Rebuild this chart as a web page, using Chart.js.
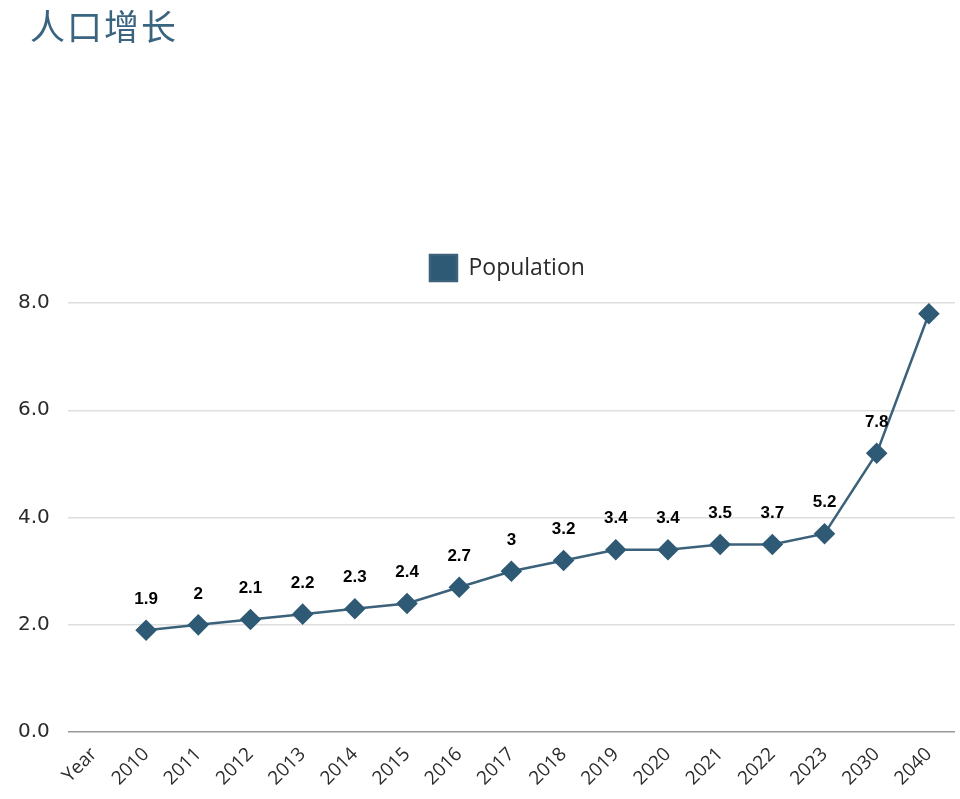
<!DOCTYPE html>
<html>
<head>
<meta charset="utf-8">
<script src="https://cdn.jsdelivr.net/npm/chart.js@4/dist/chart.umd.min.js"></script>
<style>
  html, body { margin: 0; padding: 0; background: #fff; }
  #wrap { position: relative; width: 960px; height: 799px; }
  #title { position: absolute; left: 30px; top: -1px; font-family: "Noto Sans CJK SC", sans-serif; font-size: 35px; color: #3a6480; letter-spacing: 2px; }
  canvas { position: absolute; left: 0; top: 0; }
</style>
</head>
<body>
<div id="wrap">
  <canvas id="c" width="960" height="799"></canvas>
  <div id="title">人口增长</div>
</div>
<script>
const categories = ["Year", "2010", "2011", "2012", "2013", "2014", "2015", "2016", "2017", "2018", "2019", "2020", "2021", "2022", "2023", "2030", "2040"];
const population = [null, 1.9, 2, 2.1, 2.2, 2.3, 2.4, 2.7, 3, 3.2, 3.4, 3.4, 3.5, 3.5, 3.7, 5.2, 7.8];
const valueLabels = ["1.9", "2", "2.1", "2.2", "2.3", "2.4", "2.7", "3", "3.2", "3.4", "3.4", "3.5", "3.7", "5.2", "7.8"];
const yTicks = [0, 2, 4, 6, 8];

const labelPlugin = {
  id: 'valueLabels',
  afterDatasetsDraw(chart) {
    const meta = chart.getDatasetMeta(0);
    const ctx = chart.ctx;
    ctx.save();
    ctx.font = 'bold 17px "Liberation Sans", Arial, sans-serif';
    ctx.fillStyle = '#000';
    ctx.textAlign = 'center';
    ctx.textBaseline = 'middle';
    valueLabels.forEach((t, i) => {
      const p = meta.data[i + 1];
      if (!p) return;
      ctx.fillText(t, p.x, p.y - 31);
    });
    ctx.restore();
  }
};

const legendTweak = {
  id: 'legendTweak',
  beforeInit(chart) {
    const orig = chart.legend.fit;
    chart.legend.fit = function () { orig.bind(chart.legend)(); this.height += 12; };
  },
  afterLayout(chart) {
    const lg = chart.legend;
    const shift = (chart.chartArea.left + chart.chartArea.right) / 2 - (lg.left + lg.right) / 2 - 4;
    lg.left += shift;
    lg.right += shift;
  }
};

new Chart(document.getElementById('c'), {
  type: 'line',
  data: {
    labels: categories,
    datasets: [{
      label: 'Population',
      data: population,
      borderColor: '#3c617a',
      backgroundColor: '#2f5a75',
      borderWidth: 2.5,
      pointStyle: 'rectRot',
      pointRadius: 9,
      pointHoverRadius: 9,
      pointBackgroundColor: '#2f5a75',
      pointBorderColor: '#2f5a75',
      tension: 0,
      spanGaps: false
    }]
  },
  options: {
    responsive: false,
    animation: false,
    layout: { autoPadding: false, padding: { top: 245, left: 0, right: 5, bottom: 6 } },
    plugins: {
      legend: {
        display: true,
        labels: {
          boxWidth: 27, boxHeight: 26,
          color: '#2b2b2b',
          font: { family: '"Open Sans", sans-serif', size: 23 },
          padding: 10
        }
      },
      tooltip: { enabled: false }
    },
    scales: {
      x: {
        offset: true,
        grid: { display: false },
        border: { display: false },
        ticks: {
          color: '#2b2b2b',
          font: { family: '"Open Sans", sans-serif', size: 19 },
          maxRotation: 45, minRotation: 45,
          autoSkip: false
        }
      },
      y: {
        min: 0, max: 8,
        border: { display: false },
        afterBuildTicks(scale) { scale.ticks = yTicks.map(v => ({ value: v })); },
        grid: {
          color: ctx => ctx.tick && ctx.tick.value === 0 ? '#999' : '#dedede',
          lineWidth: 1.5,
          drawTicks: false
        },
        ticks: {
          color: '#2b2b2b',
          padding: 18,
          font: { family: '"DejaVu Sans", sans-serif', size: 20 },
          callback: v => Number(v).toFixed(1)
        }
      }
    }
  },
  plugins: [labelPlugin, legendTweak]
});
</script>
</body>
</html>
